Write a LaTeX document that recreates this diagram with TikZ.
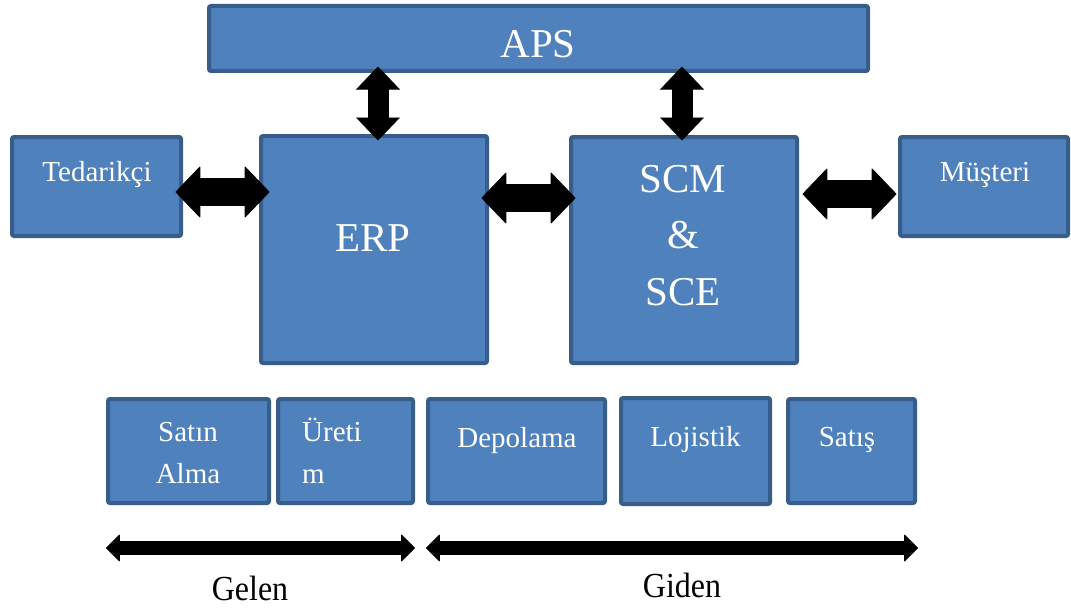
\documentclass[tikz,border=0pt]{standalone}
\usepackage{fontspec}
\usepackage{graphicx}
\setmainfont{Liberation Serif}
\usetikzlibrary{arrows.meta,calc}
\definecolor{boxfill}{HTML}{4F81BD}
\definecolor{boxline}{HTML}{385D8A}
\tikzset{
  blk/.style={draw=boxline, fill=boxfill, line width=4pt, rounded corners=2pt,
              inner sep=0pt, outer sep=0pt},
  bigtxt/.style={text=white, font=\fontsize{41}{49}\selectfont, anchor=base, inner sep=0pt},
  smalltxt/.style={text=white, font=\fontsize{29}{35}\selectfont, anchor=base, inner sep=0pt},
  flowtxt/.style={text=black, font=\fontsize{32}{38}\selectfont, anchor=base, inner sep=0pt},
  fatlink/.style={line width=28pt, draw=black,
    {Triangle[width=52pt,length=25pt,round,line width=0.8pt]}-{Triangle[width=52pt,length=25pt,round,line width=0.8pt]}},
  vlink/.style={line width=21pt, draw=black,
    {Triangle[width=44pt,length=23pt,line width=0.6pt]}-{Triangle[width=44pt,length=23pt,line width=0.6pt]}},
  flowlink/.style={line width=14pt, draw=black,
    {Triangle[width=28pt,length=14pt,round,line width=0.8pt]}-{Triangle[width=28pt,length=14pt,round,line width=0.8pt]}},
}
\begin{document}
\begin{tikzpicture}[x=1pt,y=-1pt]
\useasboundingbox (0,0) rectangle (1071,610);

% main blocks
\node[blk, minimum width=659pt, minimum height=65pt] (aps) at (538.5,38.5) {};
\node[blk, minimum width=169pt, minimum height=99pt] (ted) at (96.5,186.5) {};
\node[blk, minimum width=226pt, minimum height=227pt] (erp) at (374,249.5) {};
\node[blk, minimum width=226pt, minimum height=226pt] (scm) at (684,250) {};
\node[blk, minimum width=168pt, minimum height=99pt] (mus) at (984,186.5) {};

% process blocks
\node[blk, minimum width=161pt, minimum height=104pt] (satin) at (188.5,451) {};
\node[blk, minimum width=135pt, minimum height=104pt] (uretim) at (345.5,451) {};
\node[blk, minimum width=177pt, minimum height=104pt] (depo) at (516.5,451) {};
\node[blk, minimum width=149pt, minimum height=106pt] (loji) at (695.5,451) {};
\node[blk, minimum width=127pt, minimum height=104pt] (satis) at (851.5,451) {};

% block texts
\node[bigtxt] (apsT) at (538,58) {APS};
\node[bigtxt] (erpT) at (373,251) {ERP};
\node[bigtxt] (scmT) at (683,192) {SCM};
\node[bigtxt] (ampT) at (683,248.5) {\&};
\node[bigtxt] (sceT) at (683,305) {SCE};
\node[smalltxt] (tedT) at (97,181) {Tedarikçi};
\node[smalltxt] (musT) at (985,181) {Müşteri};
\node[smalltxt] (satinT1) at (188,441) {Satın};
\node[smalltxt] (satinT2) at (188,483) {Alma};
\node[smalltxt, anchor=base west] (uretimT1) at (302,441) {Üreti};
\node[smalltxt, anchor=base west] (uretimT2) at (302,483) {m};
\node[smalltxt] (depoT) at (517,447) {Depolama};
\node[smalltxt] (lojiT) at (695.5,446) {Lojistik};
\node[smalltxt] (satisT) at (847,446) {Satış};

% two-way links between blocks
\draw[vlink] ([shift={(4,-4.5)}]aps.south -| erp.north) -- ([shift={(4,4.5)}]erp.north);
\draw[vlink] ([shift={(-2,-4.5)}]aps.south -| scm.north) -- ([shift={(-2,3.5)}]scm.north);
\draw[fatlink] ([shift={(-5.5,5.5)}]ted.east) -- ([shift={(8.5,-57.5)}]erp.west);
\draw[fatlink] ([shift={(-5.5,-51.5)}]erp.east) -- ([shift={(4.5,-52)}]scm.west);
\draw[fatlink] ([shift={(5.5,-56)}]scm.east) -- ([shift={(-3.5,7.5)}]mus.west);

% inbound / outbound flow
\coordinate (inL) at (106,548);
\coordinate (inR) at (415,548);
\coordinate (outL) at (426,548);
\coordinate (outR) at (918,548);
\draw[flowlink] (inL) -- (inR);
\draw[flowlink] (outL) -- (outR);
\node[flowtxt] (gelen) at (250,600) {\scalebox{1}[1.1]{Gelen}};
\node[flowtxt] (giden) at (682,597) {\scalebox{1}[1.1]{Giden}};
\end{tikzpicture}
\end{document}
